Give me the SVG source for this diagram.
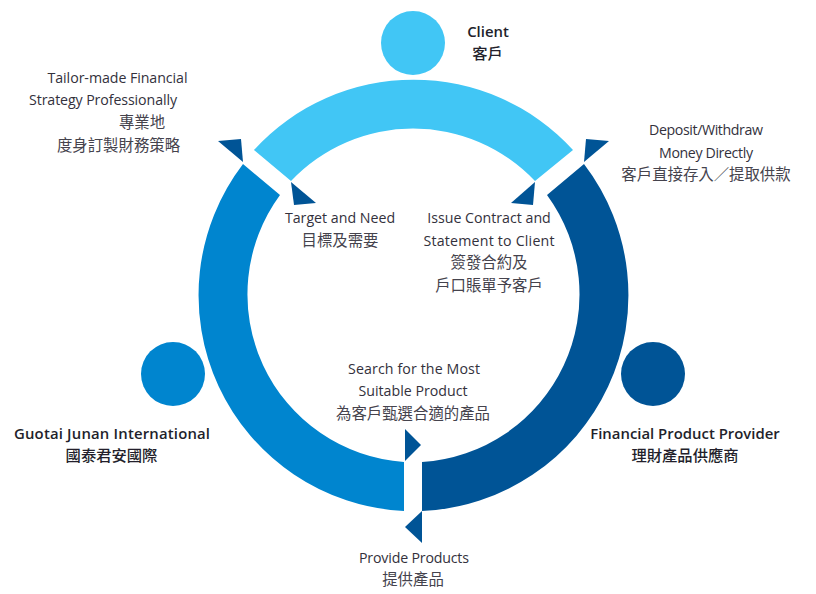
<svg xmlns="http://www.w3.org/2000/svg" width="816" height="594" viewBox="0 0 816 594">
<style>
text{font-family:"Open Sans","Noto Sans CJK TC",sans-serif;font-size:14.2px;fill:#33313c;text-anchor:middle}
text.c{font-family:"Noto Sans CJK TC",sans-serif;font-size:15.4px;fill:#45434d}
text.b{font-weight:600;font-size:14.9px;fill:#231f2b}
text.cb{font-family:"Noto Sans CJK TC",sans-serif;font-weight:500;font-size:15.3px;fill:#231f2b}
.light{fill:#41c6f5}.mid{fill:#0085cf}.dark{fill:#005496}
</style>
<rect width="816" height="594" fill="#fff"/>
<g id="connectors">
<path class="light" d="M254 150A216 216 0 0 1 573 150L535 181A168 168 0 0 0 291 181Z"/>
<path class="mid" d="M243 164A216 216 0 0 0 404 511V462A168 168 0 0 1 280 195Z"/>
<path class="dark" d="M584 164A216 216 0 0 1 422 511V462A168 168 0 0 0 547 195Z"/>
<polygon class="dark" points="218,141 241,139 243,162"/>
<polygon class="dark" points="291,182 316,203 294,205"/>
<polygon class="dark" points="586,139 609,141 584,162"/>
<polygon class="dark" points="535,182 533,205 511,203"/>
<polygon class="dark" points="405,429 421,445 405,461"/>
<polygon class="dark" points="422,511 422,543 405,527"/>
</g>
<g id="client">
<circle class="light" cx="413" cy="43" r="32"/>
<text class="b" x="488" y="37">Client</text>
<text class="cb" x="487.500" y="59">客戶</text>
</g>
<g id="guotai">
<circle class="mid" cx="173" cy="374" r="32"/>
<text class="b" x="112" y="439" textLength="196">Guotai Junan International</text>
<text class="cb" x="111.500" y="461">國泰君安國際</text>
</g>
<g id="provider">
<circle class="dark" cx="653" cy="374" r="32"/>
<text class="b" x="685" y="439">Financial Product Provider</text>
<text class="cb" x="685" y="461">理財產品供應商</text>
</g>
<g id="labels">
<text x="117.500" y="83" textLength="140">Tailor-made Financial</text>
<text x="103" y="105" textLength="148">Strategy Professionally</text>
<text class="c" x="142" y="128">專業地</text>
<text class="c" x="118.500" y="151">度身訂製財務策略</text>
<text x="340" y="223">Target and Need</text>
<text class="c" x="340" y="246">目標及需要</text>
<text x="489" y="223">Issue Contract and</text>
<text x="489" y="246" textLength="131">Statement to Client</text>
<text class="c" x="489" y="268">簽發合約及</text>
<text class="c" x="489" y="291">戶口賬單予客戶</text>
<text x="706" y="135" textLength="114">Deposit/Withdraw</text>
<text x="706" y="158" textLength="94">Money Directly</text>
<text class="c" x="706" y="180">客戶直接存入／提取供款</text>
<text x="414" y="374" textLength="132">Search for the Most</text>
<text x="413" y="396">Suitable Product</text>
<text class="c" x="413" y="419">為客戶甄選合適的產品</text>
<text x="414" y="563" textLength="110">Provide Products</text>
<text class="c" x="413" y="585">提供產品</text>
</g>
</svg>
